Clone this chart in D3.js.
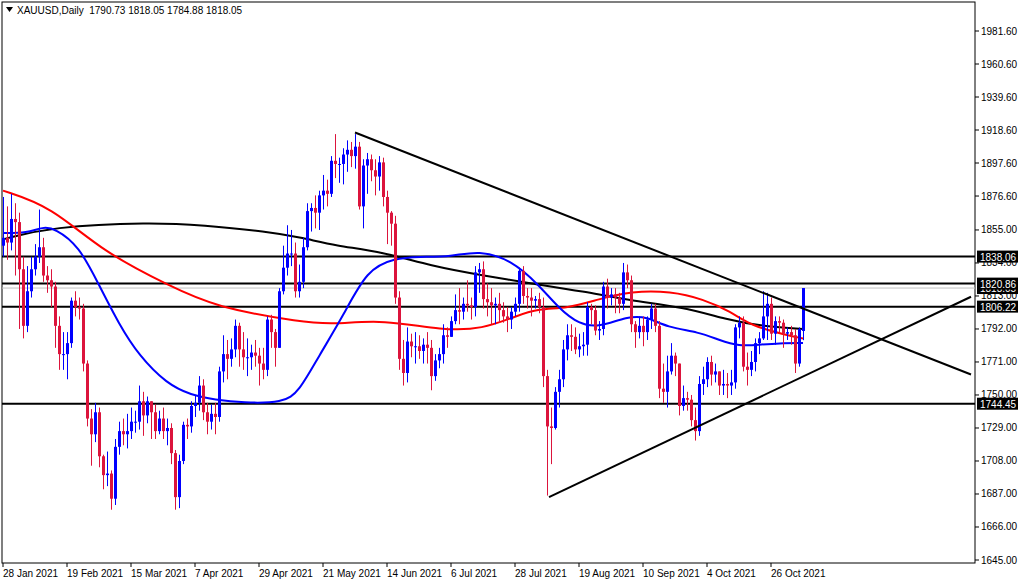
<!DOCTYPE html>
<html><head><meta charset="utf-8">
<script src="https://cdn.jsdelivr.net/npm/d3@7"></script>
<style>body{margin:0;background:#fff}svg{display:block;font-family:"Liberation Sans",Arial,sans-serif}</style>
</head><body><svg id="c" width="1020" height="584"></svg>
<script>
const closes=[1850,1847,1862,1860,1830,1794,1816,1830,1838,1844,
1826,1823,1819,1794,1776,1776,1783,1810,1806,1805,
1770,1735,1725,1739,1711,1699,1700,1684,1717,1727,
1725,1727,1733,1733,1746,1737,1746,1739,1727,1735,
1727,1729,1713,1685,1708,1731,1730,1743,1745,1756,
1739,1733,1738,1736,1765,1776,1773,1779,1794,1779,
1774,1774,1777,1775,1770,1766,1798,1790,1780,1816,
1831,1840,1840,1816,1822,1844,1867,1869,1866,1877,
1880,1878,1899,1897,1897,1903,1906,1902,1908,1870,
1896,1900,1893,1889,1898,1876,1866,1859,1812,1773,
1764,1784,1781,1781,1778,1782,1780,1762,1772,1776,
1788,1787,1797,1804,1803,1808,1807,1806,1828,1830,
1811,1809,1807,1808,1804,1800,1798,1803,1808,1829,
1813,1812,1810,1811,1806,1762,1730,1729,1752,1760,
1779,1788,1787,1779,1781,1782,1806,1804,1791,1792,
1819,1812,1814,1812,1808,1828,1823,1795,1790,1794,
1790,1798,1805,1794,1754,1752,1765,1775,1770,1743,
1748,1747,1734,1727,1757,1760,1771,1763,1765,1756,
1757,1756,1758,1793,1796,1768,1766,1771,1783,1786,
1800,1808,1789,1797,1796,1789,1790,1788,1770,1792,1818.05];
const highs=[1876,1870,1878,1872,1866,1838,1832,1838,1846,1868,
1850,1832,1830,1822,1800,1790,1790,1812,1816,1812,
1808,1772,1741,1745,1742,1712,1714,1702,1722,1733,
1735,1738,1742,1740,1756,1752,1749,1744,1744,1740,
1742,1735,1732,1715,1712,1733,1735,1746,1750,1762,
1760,1745,1744,1745,1768,1788,1785,1786,1798,1796,
1790,1786,1782,1785,1780,1780,1800,1801,1792,1818,
1845,1858,1855,1847,1833,1850,1872,1872,1877,1880,
1890,1887,1902,1916,1901,1907,1912,1911,1916,1911,
1900,1904,1903,1900,1902,1901,1880,1867,1864,1816,
1785,1793,1789,1790,1788,1786,1790,1785,1776,1780,
1795,1793,1800,1814,1818,1812,1823,1812,1832,1834,
1835,1821,1818,1812,1815,1809,1806,1806,1812,1831,
1832,1818,1818,1813,1815,1812,1766,1742,1755,1766,
1785,1795,1795,1793,1789,1790,1809,1808,1807,1797,
1822,1824,1818,1818,1815,1834,1833,1826,1797,1800,
1800,1800,1808,1808,1797,1770,1775,1783,1777,1770,
1756,1752,1750,1742,1762,1768,1774,1775,1770,1765,
1766,1764,1766,1795,1800,1800,1777,1778,1786,1790,
1816,1815,1812,1800,1800,1798,1793,1794,1792,1793,1818.05];
const lows=[1838,1836,1842,1826,1792,1786,1790,1812,1826,1834,
1822,1815,1806,1780,1766,1766,1760,1780,1800,1798,
1765,1730,1705,1720,1704,1690,1692,1677,1680,1712,
1718,1716,1722,1726,1728,1724,1732,1722,1722,1725,
1722,1718,1706,1677,1678,1706,1722,1726,1736,1740,
1734,1725,1728,1725,1733,1758,1760,1768,1774,1768,
1766,1762,1766,1768,1756,1760,1762,1780,1768,1784,
1814,1826,1832,1812,1812,1818,1842,1854,1856,1855,
1868,1870,1876,1888,1885,1884,1892,1895,1894,1868,
1856,1878,1886,1877,1880,1870,1846,1845,1808,1766,
1756,1758,1774,1770,1773,1770,1770,1753,1759,1767,
1770,1780,1788,1795,1795,1798,1803,1798,1800,1815,
1805,1800,1795,1795,1796,1796,1790,1792,1800,1803,
1808,1805,1800,1805,1802,1755,1686,1706,1728,1742,
1755,1772,1778,1776,1774,1775,1775,1795,1788,1785,
1788,1805,1807,1802,1802,1804,1818,1790,1780,1786,
1781,1785,1792,1790,1748,1745,1742,1763,1762,1737,
1740,1740,1730,1721,1724,1750,1755,1756,1758,1750,
1750,1748,1750,1754,1786,1765,1756,1762,1765,1776,
1785,1785,1785,1782,1790,1780,1785,1782,1764,1768,1784.88];
const firstOpen=1845, lastOpen=1790.73;
// moving averages: [bar index, price]
const maBlue=[[0,1853],[6,1853],[10,1857],[13,1856],[19,1845],[24,1820],[29,1795],[34,1775],[41,1757],[47,1750],[53,1747],[60,1745],[70,1745],[74,1752],[79,1775],[85,1800],[91,1830],[98,1837],[104,1838],[112,1838],[119,1842],[127,1836],[134,1820],[139,1805],[144,1795],[149,1793],[156,1800],[161,1800],[166,1793],[174,1790],[179,1785],[184,1781],[189,1782],[194,1783],[200,1783]];
const maRed=[[0,1880],[12,1870],[25,1841],[42,1819],[53,1806],[75,1796],[83,1795],[95,1798],[110,1791],[120,1792],[128,1800],[134,1805],[141,1805],[149,1811],[157,1816],[167,1816],[175,1811],[182,1803],[187,1794],[196,1788],[200,1786]];
const maBlack=[[0,1849],[12,1857],[37,1860],[50,1858],[66,1854],[75,1850],[83,1845],[95,1841],[107,1832],[120,1826],[132,1821],[145,1816],[157,1810],[170,1806],[181,1798],[189,1794],[200,1792]];
const hLevels=[1838.06,1820.86,1806.22,1744.45];
const bidPrice=1818.05;
const trendLines=[[[88,1917],[242,1763]],[[136.5,1685],[242,1812.5]]];
const yTicks=[1981.60,1960.60,1939.60,1918.60,1897.60,1876.60,1855.00,1834.00,1813.00,1792.00,1771.00,1750.00,1729.00,1708.00,1687.00,1666.00,1645.00];
const xLabels=[[0,"28 Jan 2021"],[16,"19 Feb 2021"],[32,"15 Mar 2021"],[48,"7 Apr 2021"],[64,"29 Apr 2021"],[80,"21 May 2021"],[96,"14 Jun 2021"],[112,"6 Jul 2021"],[128,"28 Jul 2021"],[144,"19 Aug 2021"],[160,"10 Sep 2021"],[176,"4 Oct 2021"],[192,"26 Oct 2021"]];

const svg=d3.select("#c");
const L=2,R=975,T=2,B=563;
const x=d3.scaleLinear().domain([0,200]).range([3,803]);
const y=d3.scaleLinear().domain([1645,1981.6]).range([560,31]);
svg.append("rect").attr("x",L).attr("y",T).attr("width",R-L).attr("height",B-T).attr("fill","#fff").attr("stroke","#000");
const g=svg.append("g");
svg.append("clipPath").attr("id","cp").append("rect").attr("x",L).attr("y",T).attr("width",R-L).attr("height",B-T);
g.attr("clip-path","url(#cp)");
g.append("line").attr("x1",L).attr("x2",R).attr("y1",y(bidPrice)).attr("y2",y(bidPrice)).attr("stroke","#c0c0c0");
g.selectAll(".h").data(hLevels).join("line").attr("x1",L).attr("x2",R).attr("y1",d=>y(d)).attr("y2",d=>y(d)).attr("stroke","#000").attr("stroke-width",2);
const line=d3.line().x(d=>x(d[0])).y(d=>y(d[1])).curve(d3.curveBasis);
[[maBlack,"#000"],[maRed,"#ff0000"],[maBlue,"#0000ff"]].forEach(([d,c])=>g.append("path").attr("d",line(d)).attr("fill","none").attr("stroke",c).attr("stroke-width",2));
const bars=closes.map((c,i)=>{const o=i===0?firstOpen:(i===closes.length-1?lastOpen:closes[i-1]);return{i,o,c,h:Math.max(highs[i],o,c),l:Math.min(lows[i],o,c)};});
const col=d=>d.c>=d.o?"#0000ff":"#dc143c";
g.selectAll(".w").data(bars).join("line").attr("x1",d=>x(d.i)+0.5).attr("x2",d=>x(d.i)+0.5).attr("y1",d=>y(d.h)).attr("y2",d=>y(d.l)).attr("stroke",col);
g.selectAll(".b").data(bars).join("rect").attr("x",d=>x(d.i)-1).attr("width",3).attr("y",d=>y(Math.max(d.o,d.c))).attr("height",d=>Math.max(1,Math.abs(y(d.o)-y(d.c)))).attr("fill",col);
trendLines.forEach(t=>g.append("line").attr("x1",x(t[0][0])).attr("y1",y(t[0][1])).attr("x2",x(t[1][0])).attr("y2",y(t[1][1])).attr("stroke","#000").attr("stroke-width",2));
const ya=svg.append("g");
yTicks.forEach(v=>{ya.append("line").attr("x1",R).attr("x2",R+4).attr("y1",y(v)).attr("y2",y(v)).attr("stroke","#000");
 ya.append("text").attr("x",981).attr("y",y(v)+3.5).attr("font-size",10).text(v.toFixed(2));});
[bidPrice,...hLevels].forEach(v=>{ya.append("rect").attr("x",977).attr("y",y(v)-6).attr("width",41).attr("height",12).attr("fill","#000");
 ya.append("text").attr("x",980).attr("y",y(v)+4).attr("font-size",10).attr("fill","#fff").text(v.toFixed(2));});
xLabels.forEach(([i,t])=>{svg.append("line").attr("x1",x(i)).attr("x2",x(i)).attr("y1",B).attr("y2",B+4).attr("stroke","#000");
 svg.append("text").attr("x",x(i)).attr("y",577).attr("font-size",10).text(t);});
svg.append("path").attr("d","M6,7 L13,7 L9.5,12 Z").attr("fill","#000");
svg.append("text").attr("x",17).attr("y",14).attr("font-size",10).attr("xml:space","preserve").text("XAUUSD,Daily  1790.73 1818.05 1784.88 1818.05");
</script></body></html>
